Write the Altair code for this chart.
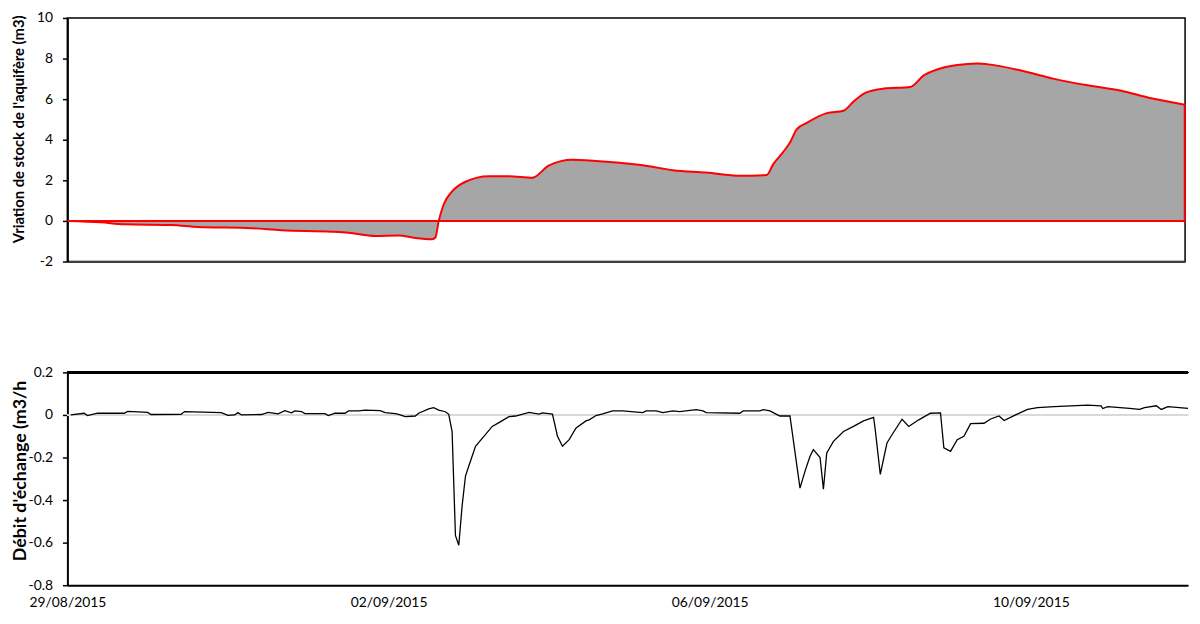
import altair as alt
import pandas as pd

# ---------------- data (hours since 29/08/2015 00:00) ----------------
stock_hours = [0, 10, 17, 31, 39, 55, 64, 79, 84, 92, 99, 104, 109, 110, 111, 112.5,
               115, 119, 126, 132, 139, 144, 151, 162, 172, 181, 191, 201, 209, 211,
               214, 216, 218, 221, 227, 232, 235, 238.5, 244, 252, 256, 260, 266, 272,
               276, 285, 295, 305, 315, 324, 334]
stock_values = [0, -0.07, -0.17, -0.2, -0.3, -0.36, -0.46, -0.53, -0.58, -0.74, -0.72,
                -0.84, -0.9, -0.82, 0.0, 0.82, 1.45, 1.93, 2.2, 2.2, 2.13, 2.74, 3.01,
                2.9, 2.74, 2.5, 2.38, 2.22, 2.26, 2.8, 3.4, 3.86, 4.51, 4.83, 5.31, 5.43,
                5.88, 6.31, 6.52, 6.6, 7.17, 7.46, 7.68, 7.76, 7.7, 7.41, 7.0, 6.68, 6.41,
                6.04, 5.72]

flow_hours = [1, 5, 6, 9, 17, 18, 24, 25, 34, 35, 46, 48, 50, 51, 52, 58, 60, 63, 65,
              67, 68, 70, 71, 77, 78, 80, 83, 84, 87, 89, 93.5, 95, 98, 99, 101, 104,
              105, 108, 109.5, 111, 113, 114, 115, 116, 117, 118, 119, 120, 122, 127,
              129, 132, 134, 138, 141, 142, 145, 146.5, 148, 150, 152, 155, 156, 158,
              160, 163, 166, 172, 173, 176, 178, 181, 183, 188, 190, 191, 201, 202, 207,
              208, 210, 212, 213, 216, 219, 220.5, 222, 223, 225, 226, 227, 229, 232,
              235, 238, 241, 241.5, 243, 245, 246.5, 249.5, 251.5, 254.5, 258, 261, 262,
              264, 266, 268, 270, 274, 276, 278.5, 280, 283, 287, 290, 295, 305, 309,
              309.5, 311, 317.5, 320.5, 322, 325.5, 327, 329, 335]
flow_values = [0.0, 0.008, -0.003, 0.008, 0.008, 0.017, 0.012, 0.002, 0.003, 0.016,
               0.011, -0.002, 0.0, 0.011, 0.0, 0.002, 0.012, 0.005, 0.02, 0.01, 0.019,
               0.016, 0.006, 0.006, -0.003, 0.008, 0.008, 0.019, 0.019, 0.023, 0.02,
               0.011, 0.006, 0.003, -0.008, -0.005, 0.008, 0.028, 0.034, 0.023, 0.015,
               0.003, -0.078, -0.566, -0.612, -0.426, -0.287, -0.24, -0.147, -0.054,
               -0.036, -0.008, -0.005, 0.012, 0.004, 0.01, 0.004, -0.1, -0.147, -0.116,
               -0.062, -0.028, -0.023, -0.003, 0.005, 0.019, 0.019, 0.011, 0.019, 0.019,
               0.011, 0.019, 0.016, 0.025, 0.019, 0.011, 0.008, 0.019, 0.019, 0.025,
               0.019, 0.003, -0.005, -0.005, -0.344, -0.264, -0.194, -0.163, -0.2,
               -0.349, -0.178, -0.124, -0.078, -0.054, -0.028, -0.011, -0.07, -0.279,
               -0.132, -0.093, -0.02, -0.054, -0.023, 0.008, 0.01, -0.155, -0.171,
               -0.116, -0.1, -0.041, -0.039, -0.019, -0.005, -0.026, -0.003, 0.026,
               0.034, 0.039, 0.046, 0.043, 0.03, 0.039, 0.031, 0.026, 0.034, 0.043,
               0.026, 0.039, 0.031]

stock_ticks = [-2, 0, 2, 4, 6, 8, 10]
flow_ticks = [-0.8, -0.6, -0.4, -0.2, 0, 0.2]
date_ticks = [(2015, 8, 29), (2015, 9, 2), (2015, 9, 6), (2015, 9, 10)]

start = pd.Timestamp("2015-08-29 00:00")
df_stock = pd.DataFrame({"t": start + pd.to_timedelta(stock_hours, unit="h"),
                         "v": stock_values})
df_flow = pd.DataFrame({"t": start + pd.to_timedelta(flow_hours, unit="h"),
                        "v": flow_values})

FONT = "Lato"
t0 = alt.DateTime(year=2015, month=8, date=29)
tick_vals = [alt.DateTime(year=y, month=m, date=d) for (y, m, d) in date_ticks]

# ---------------- top panel ----------------
x_top = alt.X("t:T",
              scale=alt.Scale(domain=[t0, alt.DateTime(year=2015, month=9, date=11, hours=22, minutes=6)], nice=False),
              axis=alt.Axis(title=None, labels=False, ticks=False, grid=False,
                            domainColor="#404040", domainWidth=2))
y_top = alt.Y("v:Q",
              scale=alt.Scale(domain=[-2, 10], nice=False, zero=False),
              axis=alt.Axis(title="Vriation de stock de l'aquifère (m3)", values=stock_ticks,
                            grid=False, tickSize=5, tickColor="black", tickWidth=1.5,
                            domainColor="black", domainWidth=2, labelPadding=10,
                            labelExpr="toString(datum.value)",
                            titleFontSize=14.9,
                            titleX=-48, titleY=112, titleAngle=270, titleBaseline="middle",
                            titleAlign="center"))
top = alt.Chart(df_stock).mark_area(
    color="#A6A6A6", fill="#A6A6A6", stroke="#FF0000", strokeWidth=2,
    interpolate="monotone", opacity=1
).encode(x=x_top, y=y_top).properties(
    width=1129, height=246,
    view=alt.ViewBackground(stroke="black", strokeWidth=1.5)
)

# ---------------- bottom panel ----------------
x_bot = alt.X("t:T",
              scale=alt.Scale(domain=[t0, alt.DateTime(year=2015, month=9, date=11, hours=23, minutes=0)], nice=False),
              axis=alt.Axis(title=None, values=tick_vals, format="%d/%m/%Y", labelAngle=0,
                            ticks=False, grid=False, domainColor="black", domainWidth=2,
                            labelPadding=10, labelFlush=False, labelOverlap=False))
y_bot = alt.Y("v:Q",
              scale=alt.Scale(domain=[-0.8, 0.2], nice=False, zero=False),
              axis=alt.Axis(title="Débit d'échange (m3/h", values=flow_ticks, grid=False,
                            tickSize=5, tickColor="black", tickWidth=1.5,
                            domainColor="black", domainWidth=2, labelPadding=10,
                            labelExpr="datum.value == 0 ? '0' : toString(round(datum.value*10)/10)",
                            titleFontSize=18,
                            titleX=-47, titleY=99, titleAngle=270, titleBaseline="middle",
                            titleAlign="center"))

zero_rule = alt.Chart(df_flow).mark_rule(color="#D9D9D9", strokeWidth=2).encode(
    y=alt.datum(0))
top_rule = alt.Chart(df_flow).mark_rule(color="black", strokeWidth=2).encode(
    y=alt.datum(0.2))
flow_line = alt.Chart(df_flow).mark_line(color="black", strokeWidth=1.3).encode(
    x=x_bot, y=y_bot)

bottom = alt.layer(zero_rule, top_rule, flow_line).properties(
    width=1132, height=215,
    view=alt.ViewBackground(stroke="transparent")
)

chart = alt.vconcat(top, bottom, spacing=96).properties(
    padding={"left": 3, "top": -1, "right": 0, "bottom": 0}
).configure_axis(
    labelFont=FONT, labelFontSize=14, labelColor="black",
    titleFont=FONT, titleFontSize=13, titleFontWeight="bold", titleColor="black"
).configure_view(stroke="transparent")

chart.save("out.html", embed_options={"renderer": "svg", "actions": False})
